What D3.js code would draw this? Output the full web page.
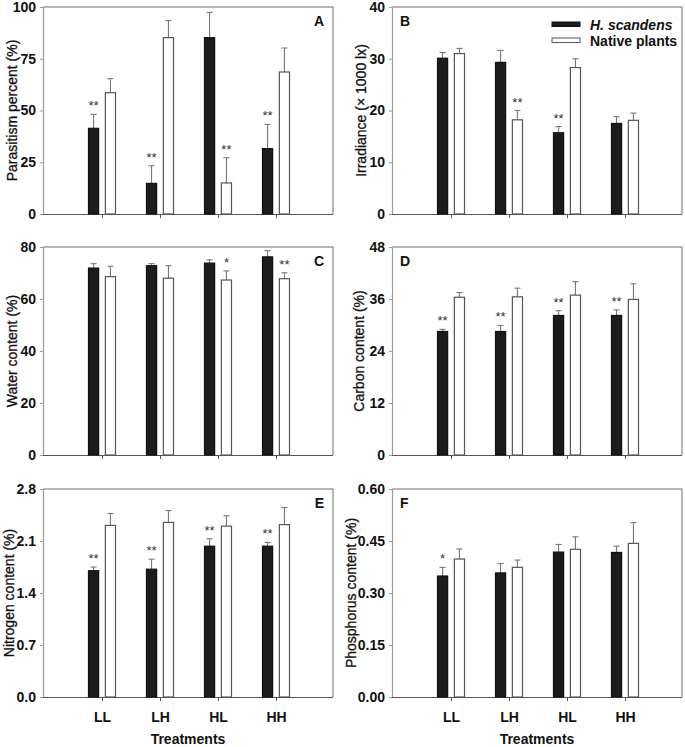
<!DOCTYPE html>
<html><head><meta charset="utf-8">
<script src="https://cdn.jsdelivr.net/npm/d3@7"></script>
<style>body{margin:0;background:#fff}svg{display:block}text{font-family:"Liberation Sans",Arial,sans-serif}</style>
</head><body><svg id="c" width="685" height="747"></svg>
<script>
const categories = ["LL","LH","HL","HH"];
const seriesNames = ["H. scandens","Native plants"];

const parasitismHs = [41.4,14.8,85.2,31.6];
const parasitismHsErr = [6.7,8.5,12.2,11.7];
const parasitismNp = [58.6,85.2,15.0,68.6];
const parasitismNpErr = [6.8,8.2,12.2,11.6];

const irradianceHs = [30.1,29.3,15.7,17.5];
const irradianceHsErr = [1.1,2.3,1.2,1.3];
const irradianceNp = [31.0,18.2,28.3,18.1];
const irradianceNpErr = [1.0,1.8,1.7,1.4];

const waterHs = [71.9,72.8,73.8,76.2];
const waterHsErr = [1.7,0.8,1.3,2.4];
const waterNp = [68.6,68.0,67.3,67.8];
const waterNpErr = [4.0,4.8,3.5,2.3];

const carbonHs = [28.5,28.5,32.2,32.2];
const carbonHsErr = [0.5,1.4,1.1,1.3];
const carbonNp = [36.4,36.5,36.9,35.9];
const carbonNpErr = [1.1,2.0,3.1,3.6];

const nitrogenHs = [1.70,1.72,2.03,2.03];
const nitrogenHsErr = [0.05,0.135,0.10,0.05];
const nitrogenNp = [2.31,2.35,2.30,2.32];
const nitrogenNpErr = [0.16,0.16,0.14,0.23];

const phosphorusHs = [0.349,0.358,0.418,0.417];
const phosphorusHsErr = [0.025,0.027,0.022,0.018];
const phosphorusNp = [0.398,0.374,0.426,0.443];
const phosphorusNpErr = [0.029,0.021,0.036,0.060];

const sigA = [["**","**","","**"],["","","**",""]];
const sigB = [["","","**",""],["","**","",""]];
const sigC = [["","","",""],["","","*","**"]];
const sigD = [["**","**","**","**"],["","","",""]];
const sigE = [["**","**","**","**"],["","","",""]];
const sigF = [["*","","",""],["","","",""]];

const ticksA = [0,25,50,75,100];
const ticksB = [0,10,20,30,40];
const ticksC = [0,20,40,60,80];
const ticksD = [0,12,24,36,48];
const ticksE = [0,0.7,1.4,2.1,2.8];
const ticksF = [0,0.15,0.30,0.45,0.60];

const panels = [
  {letter:"A", title:"Parasitism percent (%)", hs:parasitismHs, hsE:parasitismHsErr, np:parasitismNp, npE:parasitismNpErr, sig:sigA, ticks:ticksA, fmt:d3.format("d"), left:43, top:7, bottom:214, titleDx:-31, letterPos:"right"},
  {letter:"B", title:"Irradiance (× 1000 lx)", hs:irradianceHs, hsE:irradianceHsErr, np:irradianceNp, npE:irradianceNpErr, sig:sigB, ticks:ticksB, fmt:d3.format("d"), left:392, top:7, bottom:214, titleDx:-31, letterPos:"left", legend:true},
  {letter:"C", title:"Water content (%)", hs:waterHs, hsE:waterHsErr, np:waterNp, npE:waterNpErr, sig:sigC, ticks:ticksC, fmt:d3.format("d"), left:43, top:247, bottom:455, titleDx:-31, letterPos:"right"},
  {letter:"D", title:"Carbon content (%)", hs:carbonHs, hsE:carbonHsErr, np:carbonNp, npE:carbonNpErr, sig:sigD, ticks:ticksD, fmt:d3.format("d"), left:392, top:247, bottom:455, titleDx:-33, letterPos:"left"},
  {letter:"E", title:"Nitrogen content (%)", hs:nitrogenHs, hsE:nitrogenHsErr, np:nitrogenNp, npE:nitrogenNpErr, sig:sigE, ticks:ticksE, fmt:d3.format(".1f"), left:43, top:489, bottom:697, titleDx:-34, letterPos:"right", xlabels:true},
  {letter:"F", title:"Phosphorus content (%)", hs:phosphorusHs, hsE:phosphorusHsErr, np:phosphorusNp, npE:phosphorusNpErr, sig:sigF, ticks:ticksF, fmt:d3.format(".2f"), left:392, top:489, bottom:697, titleDx:-41.5, letterPos:"left", xlabels:true}
];

const W = 290;
const svg = d3.select("#c");
const frameColor = "#6e6e6e";

panels.forEach(p => {
  const g = svg.append("g").attr("transform", `translate(${p.left},${p.top})`);
  const H = p.bottom - p.top;
  const y = d3.scaleLinear().domain([p.ticks[0], p.ticks[p.ticks.length-1]]).range([H, 0]);
  const x = d3.scaleBand().domain(categories).range([30, 262]).paddingInner(0);
  const xs = d3.scaleBand().domain(seriesNames).range([-14, 14]).paddingInner(0.34);

  g.append("path").attr("d", `M0,0H${W}V${H}`).attr("fill","none").attr("stroke", frameColor).attr("stroke-width",1);

  const ya = g.append("g").call(d3.axisLeft(y).tickValues(p.ticks).tickFormat(p.fmt).tickSizeInner(3).tickSizeOuter(0).tickPadding(4));
  ya.select(".domain").attr("stroke","#9a9a9a").attr("stroke-width",1.2);
  ya.selectAll(".tick line").attr("stroke","#9a9a9a");
  ya.selectAll("text").attr("font-size",14).attr("font-weight","bold").attr("fill","#111").style("font-family","'Liberation Sans',Arial,sans-serif");

  const xa = g.append("g").attr("transform",`translate(0,${H})`).call(
    d3.axisBottom(d3.scalePoint().domain(categories).range([x("LL")+x.bandwidth()/2, x("HH")+x.bandwidth()/2]))
      .tickSizeInner(4).tickSizeOuter(0).tickPadding(11).tickFormat(p.xlabels ? (d=>d) : (()=>"")));
  xa.select(".domain").attr("d", `M0,0.5H${W}`).attr("stroke","#555").attr("stroke-width",1.2);
  xa.selectAll(".tick line").attr("stroke","#555");
  xa.selectAll("text").attr("font-size",14).attr("font-weight","bold").attr("fill","#111").style("font-family","'Liberation Sans',Arial,sans-serif");

  g.append("text").attr("transform",`translate(${p.titleDx},${H/2}) rotate(-90)`)
    .attr("text-anchor","middle").attr("dominant-baseline","central")
    .attr("font-size",14).attr("fill","#111").attr("stroke","#111").attr("stroke-width",0.3).text(p.title);

  const series = [
    {name:seriesNames[0], vals:p.hs, errs:p.hsE, sig:p.sig[0], fill:"#1c1c1c", stroke:"#111"},
    {name:seriesNames[1], vals:p.np, errs:p.npE, sig:p.sig[1], fill:"#fff", stroke:"#555"}
  ];
  series.forEach(s => {
    const data = categories.map((c,i)=>({c, v:s.vals[i], e:s.errs[i], sig:s.sig[i]}));
    const cx = d => x(d.c) + x.bandwidth()/2 + xs(s.name);
    g.selectAll(null).data(data).enter().append("line")
      .attr("x1", d=>cx(d)+xs.bandwidth()/2).attr("x2", d=>cx(d)+xs.bandwidth()/2)
      .attr("y1", d=>y(d.v)).attr("y2", d=>y(d.v+d.e)).attr("stroke","#777").attr("stroke-width",1.1);
    g.selectAll(null).data(data).enter().append("line")
      .attr("x1", d=>cx(d)+xs.bandwidth()/2-3).attr("x2", d=>cx(d)+xs.bandwidth()/2+3)
      .attr("y1", d=>y(d.v+d.e)).attr("y2", d=>y(d.v+d.e)).attr("stroke","#777").attr("stroke-width",1.1);
    g.selectAll(null).data(data).enter().append("rect")
      .attr("x", d=>cx(d)+0.5).attr("width", xs.bandwidth()-1)
      .attr("y", d=>y(d.v)).attr("height", d=>y(0)-y(d.v))
      .attr("fill", s.fill).attr("stroke", s.stroke).attr("stroke-width",1.2);
    g.selectAll(null).data(data.filter(d=>d.sig)).enter().append("text")
      .attr("x", d=>cx(d)+xs.bandwidth()/2).attr("y", d=>y(d.v+d.e)-4)
      .attr("text-anchor","middle").attr("font-size",13).attr("fill","#333").text(d=>d.sig);
  });

  g.append("text").attr("x", p.letterPos==="right" ? W-9 : 8).attr("y", 19)
    .attr("text-anchor", p.letterPos==="right" ? "end" : "start")
    .attr("font-size",14).attr("font-weight","bold").attr("fill","#111").text(p.letter);

  if (p.legend) {
    const lg = g.append("g").attr("transform","translate(160,15)");
    const items = [{n:seriesNames[0], fill:"#1c1c1c", stroke:"#111", italic:true},{n:seriesNames[1], fill:"#fff", stroke:"#555", italic:false}];
    items.forEach((it,i)=>{
      lg.append("rect").attr("x",0).attr("y",i*16).attr("width",28).attr("height",4.5)
        .attr("fill",it.fill).attr("stroke",it.stroke).attr("stroke-width",1);
      lg.append("text").attr("x",38).attr("y",i*16+2.5).attr("dominant-baseline","central")
        .attr("font-size",14).attr("font-weight","bold").attr("font-style", it.italic?"italic":"normal")
        .attr("fill","#111").text(it.n);
    });
  }

  if (p.xlabels) {
    g.append("text").attr("x", W/2).attr("y", H + 47).attr("text-anchor","middle")
      .attr("font-size",14).attr("font-weight","bold").attr("fill","#111").text("Treatments");
  }
});
</script></body></html>
